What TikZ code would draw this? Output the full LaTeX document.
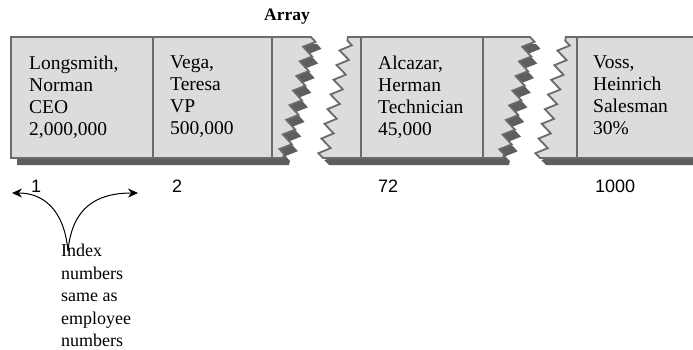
\documentclass[tikz,border=0pt]{standalone}
\usepackage{fontspec}
\setmainfont{Liberation Serif}
\setsansfont{Liberation Sans}
\usetikzlibrary{decorations.pathmorphing,arrows.meta}
\definecolor{cellfill}{HTML}{DCDCDF}
\definecolor{edgegray}{HTML}{6B6B6B}
\definecolor{shadegray}{HTML}{5E5E5E}
\begin{document}
\begin{tikzpicture}[x=1pt,y=-1pt,
  zz/.style={decoration={zigzag,segment length=15pt,amplitude=5.5pt}},
  piece/.style={fill=cellfill,draw=edgegray,line width=1.8pt,line join=miter},
  shadowpiece/.style={fill=shadegray,shift={(6,7)}},
  divider/.style={draw=edgegray,line width=1.8pt},
  celltext/.style={anchor=north west,inner sep=0pt,align=left,font=\rmfamily\fontsize{19.5}{21.8}\selectfont},
  idx/.style={anchor=base west,inner sep=0pt,font=\sffamily\fontsize{18}{20}\selectfont},
  arr/.style={line width=1pt,-{Stealth[length=10pt,width=9pt]}}]
\useasboundingbox (0,0) rectangle (693,350);
% shadows
\path[shadowpiece] (11,37) -- (311,37) decorate[zz]{-- (283,158)} -- (11,158) -- cycle;
\path[shadowpiece] (348,37) -- (530,37) decorate[zz]{-- (503,158)} -- (323,158) decorate[zz]{-- (348,37)} -- cycle;
\path[shadowpiece] (566,37) -- (720,37) -- (720,158) -- (540,158) decorate[zz]{-- (566,37)} -- cycle;
% pieces
\path[piece] (11,37) -- (311,37) decorate[zz]{-- (283,158)} -- (11,158) -- cycle;
\path[piece] (348,37) -- (530,37) decorate[zz]{-- (503,158)} -- (323,158) decorate[zz]{-- (348,37)} -- cycle;
\path[piece] (566,37) -- (720,37) -- (720,158) -- (540,158) decorate[zz]{-- (566,37)} -- cycle;
% dividers
\path[divider] (153,37) -- (153,158);
\path[divider] (272,37) -- (272,158);
\path[divider] (361,37) -- (361,158);
\path[divider] (483,37) -- (483,158);
\path[divider] (577,37) -- (577,158);
% title
\node[anchor=base,inner sep=0pt,font=\rmfamily\bfseries\fontsize{17.5}{20}\selectfont] (title) at (287,21) {Array};
% cell texts
\node[celltext] (c1) at (29,56) {Longsmith,\\Norman\\CEO\\2,000,000};
\node[celltext] (c2) at (170,56) {Vega,\\Teresa\\VP\\500,000};
\node[celltext] (c72) at (378,56) {Alcazar,\\Herman\\Technician\\45,000};
\node[celltext] (c1000) at (593,56) {Voss,\\Heinrich\\Salesman\\30\%};
% index numbers
\node[idx] (n1) at (31,192) {1};
\node[idx] (n2) at (172,192) {2};
\node[idx] (n72) at (378,192) {72};
\node[idx] (n1000) at (595,192) {1000};
% note
\node[anchor=north west,inner sep=0pt,align=left,font=\rmfamily\fontsize{18}{22.5}\selectfont] (note) at (61,244) {Index\\numbers\\same as\\employee\\numbers};
\coordinate (fork) at (68,251);
\coordinate (tipL) at (12,193);
\coordinate (tipR) at (138,193);
\draw[arr] (fork) .. controls (64,208) and (42,193) .. (tipL);
\draw[arr] (fork) .. controls (72,208) and (96,193) .. (tipR);
\end{tikzpicture}
\end{document}
